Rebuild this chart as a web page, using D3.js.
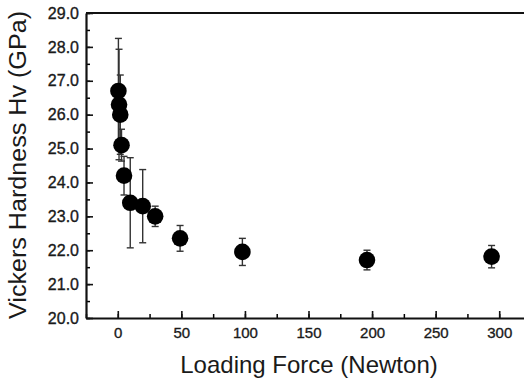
<!DOCTYPE html>
<html>
<head>
<meta charset="utf-8">
<script src="https://cdn.jsdelivr.net/npm/d3@7"></script>
<style>
  body { margin: 0; background: #fff; }
  svg { display: block; font-family: "Liberation Sans", Arial, sans-serif; }
</style>
</head>
<body>
<svg id="chart" width="524" height="380"></svg>
<script>
// loading force (N), hardness (GPa), error (+/- GPa)
var loads    = [0.49, 0.98, 1.96, 2.94, 4.9, 9.8, 19.6, 29.4, 49, 98, 196, 294];
var hardness = [26.7, 26.3, 26.0, 25.1, 24.2, 23.4, 23.3, 23.0, 22.35, 21.95, 21.71, 21.81];
var errors   = [1.55, 1.63, 1.17, 0.47, 0.57, 1.33, 1.08, 0.3, 0.38, 0.4, 0.29, 0.33];

var xTicks = [0, 50, 100, 150, 200, 250, 300];
var yTicks = [20, 21, 22, 23, 24, 25, 26, 27, 28, 29];

var margin = { top: 13, left: 86, bottom: 62 };
var width = 445, height = 305;

var svg = d3.select("#chart");
var chart = svg.append("g")
    .attr("transform", "translate(" + margin.left + "," + margin.top + ")");

var x = d3.scaleLinear().domain([-25, 325]).range([0, width]);
var y = d3.scaleLinear().domain([20, 29]).range([height, 0]);

var data = loads.map(function (d, i) {
    return { load: d, hv: hardness[i], err: errors[i] };
});

// minor ticks (inward)
chart.append("g")
    .attr("transform", "translate(0," + height + ")")
    .call(d3.axisBottom(x).tickValues(d3.range(-25, 326, 25)).tickSize(-4).tickFormat(""))
    .call(function (g) { g.select(".domain").remove(); g.selectAll("line").attr("stroke-width", 1.5); });
chart.append("g")
    .call(d3.axisLeft(y).tickValues(d3.range(20, 29.01, 0.5)).tickSize(-4).tickFormat(""))
    .call(function (g) { g.select(".domain").remove(); g.selectAll("line").attr("stroke-width", 1.5); });

// major axes
var xAxis = chart.append("g")
    .attr("transform", "translate(0," + height + ")")
    .call(d3.axisBottom(x).tickValues(xTicks).tickSizeInner(-7).tickSizeOuter(0).tickPadding(9));
var yAxis = chart.append("g")
    .call(d3.axisLeft(y).tickValues(yTicks).tickSizeInner(-7).tickSizeOuter(0).tickPadding(7)
        .tickFormat(d3.format(".1f")));

[xAxis, yAxis].forEach(function (g) {
    g.select(".domain").attr("stroke-width", 2.2).attr("stroke", "#111");
    g.selectAll(".tick line").attr("stroke-width", 1.6).attr("stroke", "#111");
    g.selectAll(".tick text")
        .attr("fill", "#1a1a1a")
        .attr("stroke", "#1a1a1a")
        .attr("stroke-width", 0.35)
        .attr("font-family", "'Liberation Sans', Arial, sans-serif");
});
xAxis.selectAll(".tick text").attr("font-size", "15px");
yAxis.selectAll(".tick text").attr("font-size", "16px");

// top frame line
chart.append("line")
    .attr("x1", 0).attr("x2", width)
    .attr("y1", 0).attr("y2", 0)
    .attr("stroke", "#111").attr("stroke-width", 2.2);

// error bars
var bars = chart.append("g").attr("id", "error-bars")
    .selectAll("g").data(data).enter().append("g")
    .attr("stroke", "#333").attr("stroke-width", 1.4);
bars.append("line")
    .attr("x1", function (d) { return x(d.load); })
    .attr("x2", function (d) { return x(d.load); })
    .attr("y1", function (d) { return y(d.hv - d.err); })
    .attr("y2", function (d) { return y(d.hv + d.err); });
[-1, 1].forEach(function (s) {
    bars.append("line")
        .attr("x1", function (d) { return x(d.load) - 3.5; })
        .attr("x2", function (d) { return x(d.load) + 3.5; })
        .attr("y1", function (d) { return y(d.hv + s * d.err); })
        .attr("y2", function (d) { return y(d.hv + s * d.err); });
});

// data points
chart.append("g").attr("id", "dots")
    .selectAll("circle").data(data).enter().append("circle")
    .attr("cx", function (d) { return x(d.load); })
    .attr("cy", function (d) { return y(d.hv); })
    .attr("r", 8.3)
    .attr("fill", "#000");

// axis labels
svg.append("text")
    .attr("x", 309)
    .attr("y", 373)
    .attr("text-anchor", "middle")
    .attr("font-size", "24px")
    .attr("fill", "#1a1a1a")
    .text("Loading Force (Newton)");

svg.append("text")
    .attr("transform", "translate(26,165) rotate(-90)")
    .attr("text-anchor", "middle")
    .attr("font-size", "23px")
    .attr("textLength", 308)
    .attr("lengthAdjust", "spacingAndGlyphs")
    .attr("fill", "#1a1a1a")
    .text("Vickers Hardness Hv (GPa)");
</script>
</body>
</html>
